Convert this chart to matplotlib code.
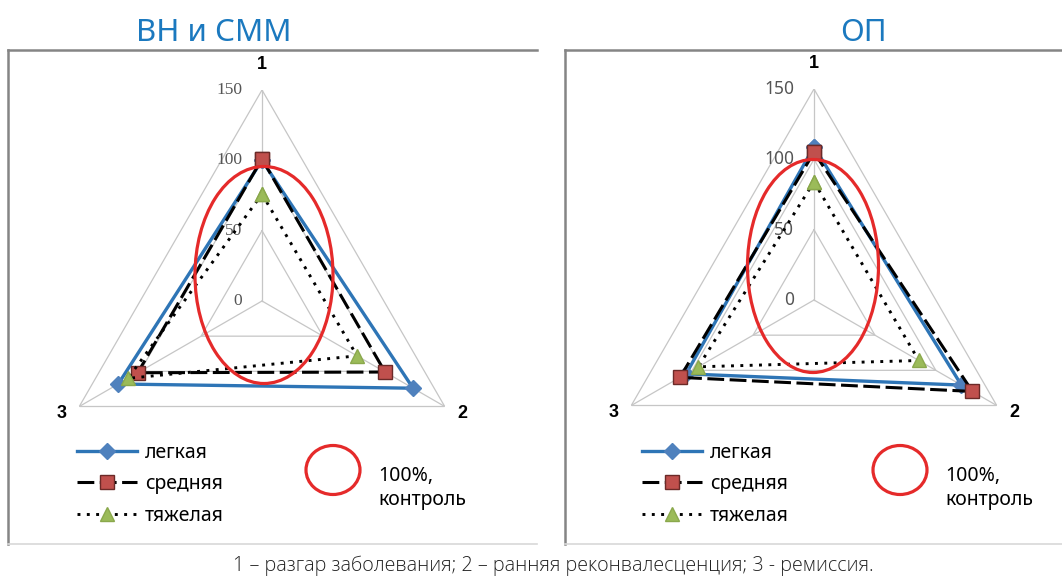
import numpy as np
import matplotlib
matplotlib.use('Agg')
import matplotlib.pyplot as plt
from matplotlib.patches import Ellipse
from matplotlib.lines import Line2D

# ---------------- data ----------------
categories = ['1', '2', '3']
r_ticks = [0, 50, 100, 150]
grid_levels = [50, 100, 150]
panel_titles = ['ВН и СММ', 'ОП']
series_names = ['легкая', 'средняя', 'тяжелая']

vn_legkaya = [100, 124, 118]
vn_srednyaya = [101, 101, 102]
vn_tyazhelaya = [76, 78, 110]

op_legkaya = [109, 121, 105]
op_srednyaya = [105, 130, 110]
op_tyazhelaya = [84, 86, 95]

caption = '1 – разгар заболевания; 2 – ранняя реконвалесценция; 3 - ремиссия.'
control_label = '100%,\nконтроль'

# ---------------- layout helpers ----------------
W, H = 1062, 577
fig = plt.figure(figsize=(W / 100, H / 100), dpi=100)
fig.patch.set_facecolor('white')
SANS = ['Noto Sans', 'DejaVu Sans']
BOLD = ['Liberation Sans', 'DejaVu Sans']


def fx(x):
    return x / W


def fy(y):
    return 1 - y / H


def frame(x0, y0, x1, y1):
    dark = '#858585'
    light = '#d8d8d8'
    fig.add_artist(Line2D([fx(x0), fx(x1)], [fy(y0), fy(y0)], color=dark, lw=1.8, transform=fig.transFigure))
    fig.add_artist(Line2D([fx(x0), fx(x0)], [fy(y0), fy(y1)], color=dark, lw=1.8, transform=fig.transFigure))
    fig.add_artist(Line2D([fx(x0), fx(x1)], [fy(y1), fy(y1)], color=light, lw=1.2, transform=fig.transFigure))


styles = [
    dict(color='#2e75b6', lw=2.4, ls='-', marker='D', ms=8.5, mfc='#4f81bd', mec='#4f81bd'),
    dict(color='black', lw=2.2, ls=(0, (5.5, 1.8)), marker='s', ms=10.5, mfc='#c0504d', mec='#6b2a28'),
    dict(color='black', lw=2.1, ls=(0, (1, 2.2)), marker='^', ms=10, mfc='#9bbb59', mec='#8aa84c'),
]

theta = np.array([0, 2 * np.pi / 3, 4 * np.pi / 3])
theta_c = np.append(theta, theta[0])

R_PX = 211  # pixel radius of value 150
panels = [
    dict(cx=262, cy=301, title_x=214, data=[vn_legkaya, vn_srednyaya, vn_tyazhelaya],
         tick_family=['Liberation Serif', 'DejaVu Serif'], ell=(264, 275, 138, 217),
         frame=(8, 50, 537, 544), legend_x=77, circ_x=333, ctext_x=378),
    dict(cx=814, cy=300, title_x=863, data=[op_legkaya, op_srednyaya, op_tyazhelaya],
         tick_family=SANS, ell=(813, 266, 131, 213),
         frame=(565, 50, 1070, 544), legend_x=642, circ_x=900, ctext_x=945),
]

for i, p in enumerate(panels):
    frame(*p['frame'])
    ax = fig.add_axes([fx(p['cx'] - R_PX), 1 - (p['cy'] + R_PX) / H, 2 * R_PX / W, 2 * R_PX / H],
                      projection='polar')
    ax.set_theta_zero_location('N')
    ax.set_theta_direction(-1)
    ax.set_axis_off()
    # triangular grid
    for lev in grid_levels:
        ax.plot(theta_c, [lev] * 4, color='#c6c6c6', lw=0.9, zorder=1)
    for t in theta:
        ax.plot([t, t], [0, 150], color='#c6c6c6', lw=0.9, zorder=1)
    # radial tick labels
    for v in r_ticks:
        ax.annotate(str(v), xy=(0, v), xytext=(-20, 0), textcoords='offset pixels',
                    ha='right', va='center', fontsize=12.5, color='#555555',
                    family=p['tick_family'], zorder=2)
    # category labels
    ax.text(theta[0], 168, categories[0], ha='center', va='center', fontsize=13,
            fontweight='bold', family=BOLD)
    ax.text(theta[1], 160, categories[1], ha='left', va='center', fontsize=13,
            fontweight='bold', family=BOLD)
    ax.text(theta[2], 160, categories[2], ha='right', va='center', fontsize=13,
            fontweight='bold', family=BOLD)
    # series
    handles = []
    for vals, st, name in zip(p['data'], styles, series_names):
        ln, = ax.plot(theta_c, list(vals) + [vals[0]], color=st['color'], lw=st['lw'],
                      ls=st['ls'], marker=st['marker'], ms=st['ms'], mfc=st['mfc'],
                      mec=st['mec'], label=name, zorder=3, clip_on=False)
        handles.append(ln)
    ax.set_ylim(0, 150)

    # red control ellipse
    ex, ey, ew, eh = p['ell']
    fig.add_artist(Ellipse((fx(ex), fy(ey)), ew / W, eh / H, transform=fig.transFigure,
                           fill=False, edgecolor='#e52a2a', lw=2.3, zorder=10))

    # title
    fig.text(fx(p['title_x']), fy(33), panel_titles[i], ha='center', va='center',
             fontsize=22.5, color='#1b79bf', family=SANS)

    # legend
    fig.legend(handles, series_names, loc='upper left',
               bbox_to_anchor=(fx(p['legend_x']), fy(443)), frameon=False,
               prop=dict(family=SANS, size=14), handlelength=3.1, handletextpad=0.4,
               labelspacing=0.58, borderpad=0, borderaxespad=0, numpoints=1)

    # control legend ellipse
    fig.add_artist(Ellipse((fx(p['circ_x']), fy(470)), 54 / W, 49 / H, transform=fig.transFigure,
                           fill=False, edgecolor='#e52a2a', lw=2.3))
    fig.text(fx(p['ctext_x']), fy(488), control_label, ha='left', va='center',
             fontsize=14, family=SANS, linespacing=1.3)

fig.text(fx(553), fy(566), caption, ha='center', va='center', fontsize=14.2,
         color='#222222', family=['Open Sans', 'Noto Sans', 'DejaVu Sans'], fontweight='light')

fig.savefig('out.png', dpi=100)
